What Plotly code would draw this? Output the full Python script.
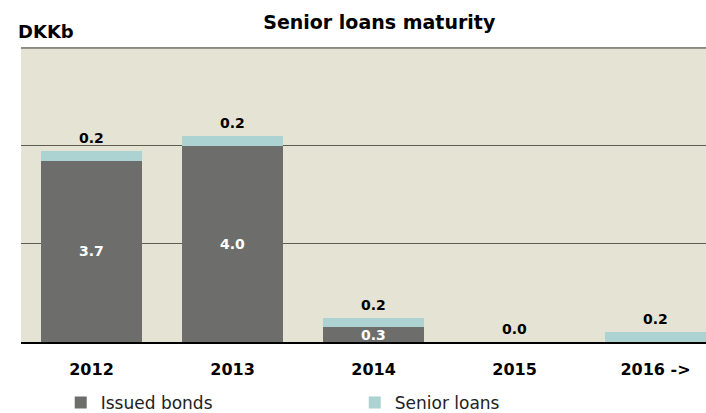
import plotly.graph_objects as go

# Maturity profile, DKK billions
years = ["2012", "2013", "2014", "2015", "2016 ->"]
issued_bonds = [3.7, 4.0, 0.3, 0.0, 0.0]
senior_loans = [0.2, 0.2, 0.2, 0.0, 0.2]

DARK = "#6d6e6c"
LIGHT = "#acd2d2"
BG = "#e5e3d3"
FONT = "DejaVu Sans"
Y_MAX = 6

fig = go.Figure()
fig.add_trace(go.Bar(
    x=years, y=issued_bonds, name="Issued bonds",
    marker=dict(color=DARK, line=dict(width=0)), width=0.716,
))
fig.add_trace(go.Bar(
    x=years, y=senior_loans, name="Senior loans",
    marker=dict(color=LIGHT, line=dict(width=0)), width=0.716,
))

annotations = []
# white value labels centred in the issued-bond segments
for i, v in enumerate(issued_bonds):
    if v > 0:
        annotations.append(dict(
            x=i, y=v / 2, xref="x", yref="y", text=f"{v:.1f}",
            showarrow=False, yanchor="middle",
            font=dict(family=FONT, size=14, color="white", weight="bold"),
        ))
# senior-loan values above each stack
for i, (b, s) in enumerate(zip(issued_bonds, senior_loans)):
    annotations.append(dict(
        x=i, y=b + s, xref="x", yref="y", text=f"{s:.1f}",
        showarrow=False, yanchor="bottom", yshift=3,
        font=dict(family=FONT, size=14, color="black", weight="bold"),
    ))
# unit label
annotations.append(dict(
    x=-5 / 685, y=1.051, xref="paper", yref="paper", text="DKKb",
    showarrow=False, xanchor="left", yanchor="middle",
    font=dict(family=FONT, size=18, color="black", weight="bold"),
))

# top rule of the plot area, at the highest grid value
fig.add_shape(
    type="line", xref="paper", yref="y", x0=0, x1=1, y0=Y_MAX, y1=Y_MAX,
    line=dict(color="#3c3b36", width=1), layer="above",
)

fig.update_layout(
    width=706, height=413,
    margin=dict(l=21, r=0, t=47, b=71),
    barmode="stack",
    paper_bgcolor="white",
    plot_bgcolor=BG,
    title=dict(
        text="<b>Senior loans maturity</b>",
        x=0.523, xanchor="center", xref="paper",
        y=1 - 22 / 413, yanchor="middle", yref="container",
        font=dict(family=FONT, size=19, color="black"),
    ),
    xaxis=dict(
        type="category",
        range=[-0.5, 4.358], showgrid=False, zeroline=False,
        showline=True, linecolor="black", linewidth=1.5,
        ticks="", ticklabelstandoff=12,
        tickfont=dict(family=FONT, size=16, color="black", weight="bold"),
    ),
    yaxis=dict(
        range=[0, Y_MAX + 0.02], tickvals=[2, 4], showticklabels=False,
        showgrid=True, gridcolor="#5f5d52", gridwidth=1,
        zeroline=False, showline=False,
    ),
    legend=dict(
        orientation="h", traceorder="normal",
        x=0.058, xanchor="left",
        y=(413 - 403) / 413, yref="container", yanchor="middle",
        entrywidth=249, entrywidthmode="pixels",
        font=dict(family=FONT, size=17, color="#222"),
        bgcolor="rgba(0,0,0,0)",
    ),
    annotations=annotations,
)

fig.write_html("out.html")
